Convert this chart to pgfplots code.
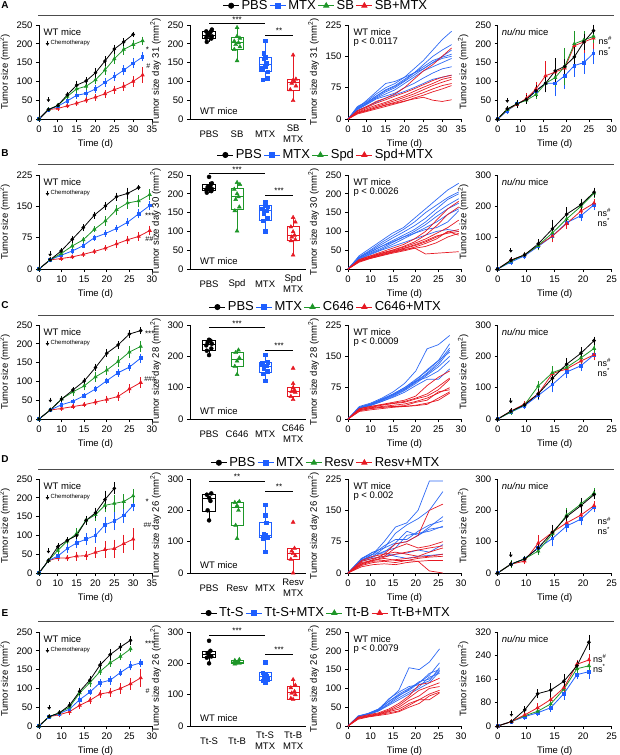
\documentclass[border=0pt]{standalone}
\usepackage{fontspec}
\setmainfont{Liberation Sans}
\usepackage{pgfplots}
\pgfplotsset{compat=1.18}
\usepackage{pgfplotstable}
\usetikzlibrary{arrows.meta}
\definecolor{cB}{RGB}{30,95,255}
\definecolor{cG}{RGB}{30,150,40}
\definecolor{cR}{RGB}{230,25,35}
\definecolor{sB}{RGB}{45,105,245}
\newcommand{\fs}[1]{\fontsize{#1}{#1}\selectfont}

\pgfplotsset{
  base/.style={scale only axis, anchor=south west, height=94pt, clip=false,
    axis x line*=bottom, axis y line*=left, tick align=outside, major tick length=3pt,
    every tick/.style={black, line width=0.7pt}, axis line style={black, line width=0.7pt},
    tick label style={font=\fs{9.5}}, label style={font=\fs{9.5}},
    /pgf/number format/assume math mode=true, ymin=0, scaled ticks=false},
  tc/.style={base, xmin=5, xtick={5,10,...,35}, xticklabels={0,10,15,20,25,30,35}, xlabel={Time (d)}},
  p1/.style={tc, width=113pt, ylabel={Tumor size (mm\textsuperscript{2})}},
  p3/.style={tc, width=113pt},
  p4/.style={tc, width=114pt, ylabel={Tumor size (mm\textsuperscript{2})}},
  p2/.style={base, width=116pt, xmin=0.32, xmax=4.46, xtick={1,2,3,4}, xtick style={draw=none},
    xticklabel style={align=center, anchor=center, yshift=-12pt, font=\fontsize{9.5}{11}\selectfont}},
  lk/.style={black, mark=*, mark size=1.4pt, line width=0.8pt},
  lb/.style={cB, mark=square*, mark size=1.3pt, line width=0.8pt},
  lg/.style={cG, mark=triangle*, mark size=1.7pt, line width=0.8pt},
  lr/.style={cR, mark=triangle*, mark size=1.7pt, line width=0.8pt},
  eb/.style={error bars/y dir=both, error bars/y explicit,
    error bars/error bar style={line width=0.6pt},
    error bars/error mark options={line width=0.6pt, mark size=1.5pt}},
  sb/.style={sB, line width=0.7pt, no marks},
  sr/.style={cR, line width=0.7pt, no marks},
  pk/.style={only marks, black, mark=*, mark size=2pt},
  pb/.style={only marks, cB, mark=square*, mark size=1.8pt},
  pg/.style={only marks, cG, mark=triangle*, mark size=2.3pt},
  pr/.style={only marks, cR, mark=triangle*, mark size=2.3pt},
  legst/.style={legend columns=4,
    legend style={at={(axis description cs:1.172,#1)}, anchor=center, draw=none, fill=none,
      font=\fs{13}, inner sep=0pt},
    legend image code/.code={\draw[mark repeat=2,mark phase=2,##1] plot coordinates {(0pt,0pt) (8pt,0pt) (16pt,0pt)};}},
}
\tikzset{chemo/.style={-{Triangle[length=2.6pt,width=3.4pt]}, line width=0.7pt, black},
  txt/.style={anchor=west, font=\fs{9.5}, inner sep=0pt},
  ns/.style={anchor=west, font=\fs{9}, inner sep=0pt}}

% one box group: colour, point style, position, whisker lo, q1, median, q3, whisker hi, points (x y rows)
\newcommand{\grp}[9]{%
  \addplot[#1, line width=0.8pt, line cap=rect, x filter/.expression={x+#3}] coordinates {(-0.22,#5) (0.22,#5) (0.22,#7) (-0.22,#7) (-0.22,#5)};
  \addplot[#1, line width=0.8pt, x filter/.expression={x+#3}] coordinates {(-0.22,#6) (0.22,#6)};
  \addplot[#1, line width=0.8pt, x filter/.expression={x+#3}] coordinates {(0,#4) (0,#5)};
  \addplot[#1, line width=0.8pt, x filter/.expression={x+#3}] coordinates {(0,#7) (0,#8)};
  \addplot[#2] table[row sep=\\, x index=0, y index=1] {#9};}
\newcommand{\sig}[4]{\draw[line width=0.6pt] (axis cs:#1,#3) -- (axis cs:#2,#3)
  node[midway, above, inner sep=1pt, font=\fs{8}] {#4};}
\newcommand{\chemolab}{%
  \node[txt] at (axis description cs:0.04,0.92) {WT mice};
  \draw[chemo] (axis description cs:0.075,0.835) -- (axis description cs:0.075,0.78);
  \node[anchor=west, inner sep=0pt, font=\fs{6}] at (axis description cs:0.1,0.805) {Chemotherapy};}

% ---------------- row A
\pgfplotstableread{
t k ke b be g ge r re
5 0 0 0 0 0 0 0 0
7.5 25 2 25 2 25 2 25 2
10 36 3 34 3 36 3 28 3
12.5 64 5 48 4 60 5 35 3
15 90 8 63 5 80 7 42 3
17.5 101 6 68 5 87 6 50 4
20 123 9 80 6 104 7 58 5
22.5 154 9 97 7 130 8 67 6
25 186 8 113 8 160 9 78 7
27.5 205 6 130 9 185 10 87 8
30 225 3 148 9 198 8 100 10
32.5 nan nan 165 8 208 7 117 16
}\tAa
\pgfplotstableread{
t b1 b2 b3 b4 b5 b6 b7 b8 r1 r2 r3 r4 r5 r6 r7
5 0 0 0 0 0 0 0 0 0 0 0 0 0 0 0
7.5 30 28 25 26 24 22 20 25 20 18 16 15 14 12 14
10 42 40 38 45 36 35 30 38 30 28 25 22 20 18 20
12.5 60 55 52 65 50 48 40 55 42 38 33 30 27 24 27
15 75 70 65 85 60 55 50 68 50 46 40 37 34 30 33
17.5 85 80 75 90 70 62 58 78 60 55 48 44 40 36 38
20 100 95 90 100 85 75 66 92 75 63 56 52 47 42 43
22.5 120 110 105 110 100 85 75 110 95 72 66 60 55 50 48
25 140 130 120 120 115 98 85 125 115 82 76 70 63 57 52
27.5 165 150 135 135 125 110 95 140 130 92 85 80 72 65 45
30 190 165 150 145 135 120 100 148 150 100 95 88 80 72 42
32.5 210 178 165 150 145 125 105 155 170 105 100 95 85 80 46
}\tAc
\pgfplotstableread{
t k ke g ge r re b be
5 0 0 0 0 0 0 0 0
7.1 27 4 25 3 25 4 22 5
9.2 40 6 40 5 38 6 40 7
11.3 52 8 50 6 55 10 52 8
13.4 75 12 65 8 80 15 75 15
15.5 95 20 95 15 115 35 95 20
17.6 128 30 110 20 125 30 95 30
19.7 140 15 140 45 135 25 115 30
21.8 165 25 200 30 195 35 142 25
23.9 205 18 210 20 205 25 150 25
26 235 12 220 15 215 25 175 25
}\tAd
% ---------------- row B
\pgfplotstableread{
t k ke g ge b be r re
5 0 0 0 0 0 0 0 0
7.45 22 2 22 2 22 2 22 2
9.9 43 3 37 3 33 3 25 2
12.35 71 5 55 3 43 3 29 2
14.8 99 5 70 3 56 3 35 2
17.25 129 5 95 4 75 4 42 2
19.7 151 6 115 8 85 4 50 3
22.15 173 6 142 8 97 5 60 5
24.6 181 10 158 10 112 6 70 6
27.05 195 3 163 10 132 7 78 7
29.5 nan nan 178 9 152 6 92 8
}\tBa
\pgfplotstableread{
t b1 b2 b3 b4 b5 b6 b7 b8 r1 r2 r3 r4 r5 r6 r7 r8
5 0 0 0 0 0 0 0 0 0 0 0 0 0 0 0 0
7.45 35 32 30 30 28 27 30 25 25 22 24 20 22 18 20 22
9.9 55 50 48 45 42 40 45 38 35 32 34 30 31 28 28 30
12.35 75 70 65 60 55 52 60 50 45 42 42 38 40 36 35 38
14.8 95 88 82 75 70 65 72 60 55 50 50 46 48 44 42 45
17.25 110 105 98 90 85 80 85 70 65 60 58 54 55 50 48 52
19.7 135 125 115 105 100 95 95 80 80 72 68 62 64 58 55 56
22.15 160 150 135 125 118 110 105 90 100 90 80 72 75 68 60 40
24.6 185 170 160 150 140 125 110 100 130 115 95 85 88 80 70 42
27.05 210 190 185 170 160 145 125 105 160 145 110 98 95 100 85 44
29.5 228 205 200 187 175 160 155 100 180 165 130 105 100 90 95 46
}\tBc
\pgfplotstableread{
t k ke g ge r re b be
5 0 0 0 0 0 0 0 0
7.3 28 4 25 4 28 4 22 4
9.7 45 5 45 5 45 5 42 6
12.1 80 10 75 8 75 8 72 8
14.6 128 25 115 15 105 15 105 12
17.1 175 18 160 15 145 12 148 12
19.6 205 15 200 12 185 12 170 12
21.9 245 10 242 10 210 10 205 12
}\tBd
% ---------------- row C
\pgfplotstableread{
t k ke g ge b be r re
5 0 0 0 0 0 0 0 0
7.5 24 2 24 2 24 2 24 2
10 53 3 53 4 38 3 28 3
12.5 77 4 72 6 47 3 33 3
15 101 5 88 8 62 3 38 3
17.5 137 6 112 10 80 3 45 4
20 175 6 130 8 102 4 52 6
22.5 197 6 153 10 123 6 60 7
25 226 6 178 12 138 6 80 8
27.5 235 5 193 10 162 8 97 10
}\tCa
\pgfplotstableread{
t b1 b2 b3 b4 b5 b6 b7 b8 r1 r2 r3 r4 r5 r6 r7
5 0 0 0 0 0 0 0 0 0 0 0 0 0 0 0
7.5 30 28 27 26 28 25 27 25 25 24 22 22 20 20 18
10 38 36 35 34 36 33 35 32 30 30 28 27 25 25 22
12.5 50 48 45 44 47 42 46 42 35 34 33 30 28 28 25
15 65 60 58 56 60 54 58 52 40 38 37 33 30 30 28
17.5 85 75 72 70 75 68 72 64 45 42 40 36 32 30 30
20 115 95 90 88 92 85 90 80 55 50 48 42 40 32 33
22.5 168 115 110 108 118 105 100 95 80 60 55 50 45 35 38
25 178 140 135 130 140 125 115 95 100 78 70 62 65 50 45
27.5 200 180 170 165 160 150 140 120 115 98 95 75 70 65 62
}\tCc
\pgfplotstableread{
t k ke g ge r re b be
5 0 0 0 0 0 0 0 0
7.3 25 4 22 3 25 3 22 4
9.7 45 5 45 5 48 5 42 5
12.1 80 10 105 12 80 8 75 10
14.6 130 20 148 15 145 10 110 20
17.1 175 15 165 10 160 10 150 15
19.6 210 15 195 10 185 10 170 12
21.9 250 8 225 10 205 12 205 12
}\tCd
% ---------------- row D
\pgfplotstableread{
t k ke g ge b be r re
5 0 0 0 0 0 0 0 0
7.5 33 3 33 3 33 3 33 3
10 70 5 60 5 45 6 40 5
12.5 87 4 85 5 65 8 40 3
15 100 5 105 10 80 10 45 8
17.5 140 8 140 8 90 12 46 8
20 160 10 155 12 100 15 55 10
22.5 195 20 180 15 128 18 62 18
25 225 12 185 18 138 20 65 20
27.5 nan nan 190 15 153 15 78 20
30 nan nan 205 15 180 12 90 25
}\tDa
\pgfplotstableread{
t b1 b2 b3 b4 b5 b6 b7 b8 r1 r2 r3 r4 r5 r6 r7 r8
5 0 0 0 0 0 0 0 0 0 0 0 0 0 0 0 0
8 35 35 32 30 33 30 28 30 30 28 25 22 20 18 22 15
10.5 45 50 40 45 50 38 35 45 40 35 30 32 28 25 30 20
13 75 60 60 65 50 52 40 48 45 40 38 45 30 28 35 22
15.5 110 95 72 80 70 60 45 40 70 60 45 50 32 25 30 20
18 120 115 100 80 75 90 48 35 75 70 50 45 35 30 30 25
20.5 150 130 90 100 90 95 55 40 90 60 55 40 38 35 28 28
23 220 150 110 115 105 100 50 42 150 65 60 50 40 38 5 30
26 220 195 135 125 110 112 68 45 165 75 65 60 45 40 0 30
}\tDc
\pgfplotstableread{
t k ke g ge r re b be
5 0 0 0 0 0 0 0 0
7.3 28 4 28 8 28 4 28 4
9.7 45 5 45 5 38 5 45 5
12.1 80 10 70 8 95 20 80 10
14.6 130 20 125 15 130 15 110 20
17.1 180 15 185 18 160 12 150 15
19.6 215 20 220 15 185 12 172 15
21.9 250 10 255 10 215 10 210 12
}\tDd
% ---------------- row E
\pgfplotstableread{
t k ke g ge b be r re
5 0 0 0 0 0 0 0 0
7.25 25 2 25 2 25 2 25 2
9.5 35 3 35 3 33 3 30 3
11.75 55 5 50 4 45 4 38 4
14 92 6 88 5 70 5 55 6
16.25 122 7 115 6 90 4 68 6
18.5 162 7 145 6 115 6 85 7
20.75 190 10 168 7 122 8 90 8
23 210 6 185 6 142 6 100 10
25.25 228 8 205 3 160 8 112 12
27.5 nan nan nan nan 168 6 128 20
}\tEa
\pgfplotstableread{
t b1 b2 b3 b4 b5 b6 b7 r1 r2 r3 r4 r5 r6
5 0 0 0 0 0 0 0 0 0 0 0 0 0
7.25 27 26 25 26 25 24 25 24 22 22 20 20 18
9.5 33 32 32 34 33 31 30 30 28 27 26 25 24
11.75 45 44 42 45 42 40 40 35 33 32 30 30 28
14 70 65 72 65 60 58 55 45 42 40 38 35 32
16.25 95 85 90 82 80 75 70 60 55 50 45 40 38
18.5 155 100 105 95 98 90 85 80 75 68 60 55 50
20.75 150 115 110 115 118 105 100 110 95 80 70 70 60
23 170 135 120 140 125 130 115 115 105 100 85 70 80
25.25 205 168 155 150 148 140 145 127 115 105 95 88 90
}\tEc
\pgfplotstableread{
t k ke r re g ge b be
5 0 0 0 0 0 0 0 0
7.4 15 3 15 3 15 3 15 3
9.75 55 8 38 5 35 5 32 5
12 110 10 62 10 50 5 45 5
14.3 122 20 90 10 75 8 62 8
16.6 152 20 130 15 125 10 110 15
18.9 205 10 210 10 195 10 175 10
21 285 20 225 15 205 10 185 20
}\tEd

\begin{document}
\begin{tikzpicture}
\useasboundingbox (0,0) rectangle (619pt,-755pt);

% ================= A
\begin{axis}[p1, at={(39pt,-119pt)}, xmax=35, ymax=250, ytick={0,50,...,250}]
\addplot[lr, eb] table[x=t,y=r,y error=re]{\tAa};
\addplot[lb, eb] table[x=t,y=b,y error=be]{\tAa};
\addplot[lg, eb] table[x=t,y=g,y error=ge]{\tAa};
\addplot[lk, eb] table[x=t,y=k,y error=ke]{\tAa};
\chemolab
\draw[chemo] (axis cs:7.5,58) -- (axis cs:7.5,45);
\node[font=\fs{8}] at (axis cs:33.8,184) {*};
\node[font=\fs{7}] at (axis cs:34,141) {\#};
\end{axis}
\begin{axis}[p2, at={(190pt,-119pt)}, ymax=250, ytick={0,50,...,250},
  ylabel={Tumor size day 31 (mm\textsuperscript{2})}, xticklabels={PBS,SB,MTX,{SB\\MTX}}, legst=1.205]
\addlegendimage{lk, mark size=2.6pt}\addlegendentry{PBS}
\addlegendimage{lb, mark size=2.4pt}\addlegendentry{MTX}
\addlegendimage{lg, mark size=3pt}\addlegendentry{SB}
\addlegendimage{lr, mark size=3pt}\addlegendentry{SB+MTX}
\grp{black}{pk}{1}{205}{215}{222}{232}{238}{0.92 205\\1.08 214\\0.9 216\\1.1 220\\1 222\\0.95 226\\1.05 231\\0.9 233\\1.1 238\\}
\grp{cG}{pg}{2}{155}{185}{203}{217}{243}{2 155\\1.9 185\\2.1 192\\1.95 198\\2.05 203\\1.9 207\\2.1 215\\2 220\\2 243\\}
\grp{cB}{pb}{3}{105}{126}{144}{164}{210}{2.92 105\\3.08 108\\3.1 126\\2.9 135\\3 140\\3.05 148\\2.95 160\\3 165\\2.95 175\\3 208\\}
\grp{cR}{pr}{4}{49}{77}{97}{105}{172}{4 49\\3.9 78\\4.1 88\\3.95 95\\4.05 99\\4 103\\4.1 106\\4 170\\}
\sig{1}{3}{254}{***}
\sig{3}{4}{223}{**}
\node[txt] at (axis description cs:0.086,0.08) {WT mice};
\end{axis}
\begin{axis}[p3, at={(348pt,-119pt)}, xmax=35, ymax=225, ytick={0,75,...,225},
  ylabel={Tumor size day 31 (mm\textsuperscript{2})}]
\pgfplotsinvokeforeach{1,...,8}{\addplot[sb] table[x=t,y=b#1]{\tAc};}
\pgfplotsinvokeforeach{1,...,7}{\addplot[sr] table[x=t,y=r#1]{\tAc};}
\node[txt] at (axis description cs:0.047,0.92) {WT mice};
\node[txt] at (axis description cs:0.047,0.82) {p < 0.0117};
\end{axis}
\begin{axis}[p4, at={(497.7pt,-119pt)}, xmax=30, ymax=250, ytick={0,50,...,250}]
\addplot[lb, eb] table[x=t,y=b,y error=be]{\tAd};
\addplot[lr, eb] table[x=t,y=r,y error=re]{\tAd};
\addplot[lg, eb] table[x=t,y=g,y error=ge]{\tAd};
\addplot[lk, eb] table[x=t,y=k,y error=ke]{\tAd};
\node[txt] at (axis description cs:0.035,0.92) {\textit{nu/nu} mice};
\draw[chemo] (axis cs:7.1,56) -- (axis cs:7.1,43);
\node[ns] at (axis cs:27.1,208) {ns\textsuperscript{\#}};
\node[ns] at (axis cs:27.1,180) {ns\textsuperscript{*}};
\end{axis}

% ================= B
\begin{axis}[p1, at={(39pt,-269pt)}, xmax=30, ymax=225, ytick={0,75,...,225}]
\addplot[lr, eb] table[x=t,y=r,y error=re]{\tBa};
\addplot[lb, eb] table[x=t,y=b,y error=be]{\tBa};
\addplot[lg, eb] table[x=t,y=g,y error=ge]{\tBa};
\addplot[lk, eb] table[x=t,y=k,y error=ke]{\tBa};
\chemolab
\draw[chemo] (axis cs:7.45,42) -- (axis cs:7.45,30);
\node[font=\fs{8}] at (axis cs:29.5,128) {***};
\node[font=\fs{7}] at (axis cs:29.4,71) {\#\#};
\end{axis}
\begin{axis}[p2, at={(190pt,-269pt)}, ymax=250, ytick={0,50,...,250},
  ylabel={Tumor size day 30 (mm\textsuperscript{2})}, xticklabels={PBS,Spd,MTX,{Spd\\MTX}}, legst=1.213]
\addlegendimage{lk, mark size=2.6pt}\addlegendentry{PBS}
\addlegendimage{lb, mark size=2.4pt}\addlegendentry{MTX}
\addlegendimage{lg, mark size=3pt}\addlegendentry{Spd}
\addlegendimage{lr, mark size=3pt}\addlegendentry{Spd+MTX}
\grp{black}{pk}{1}{203}{208}{215}{225}{232}{0.92 203\\1.08 207\\0.9 210\\1.1 213\\1 215\\0.95 218\\1.05 222\\1.1 228\\1 245\\}
\grp{cG}{pg}{2}{101}{159}{192}{214}{232}{2 101\\1.92 155\\2.08 165\\1.95 185\\2.05 192\\2 200\\1.9 212\\2.1 225\\2 230\\}
\grp{cB}{pb}{3}{100}{130}{155}{168}{179}{3 100\\2.92 128\\3.08 135\\2.95 148\\3.05 155\\2.9 160\\3.1 166\\3 170\\3 178\\}
\grp{cR}{pr}{4}{35}{75}{90}{113}{139}{4 37\\3.92 75\\4.08 78\\3.95 85\\4.05 90\\4 99\\3.92 112\\4.08 125\\4 137\\}
\sig{1}{3}{254}{***}
\sig{3}{4}{197}{***}
\node[txt] at (axis description cs:0.086,0.08) {WT mice};
\end{axis}
\begin{axis}[p3, at={(348pt,-269pt)}, xmax=30, ymax=250, ytick={0,50,...,250},
  ylabel={Tumor size day 30 (mm\textsuperscript{2})}]
\pgfplotsinvokeforeach{1,...,8}{\addplot[sb] table[x=t,y=b#1]{\tBc};}
\pgfplotsinvokeforeach{1,...,8}{\addplot[sr] table[x=t,y=r#1]{\tBc};}
\node[txt] at (axis description cs:0.047,0.92) {WT mice};
\node[txt] at (axis description cs:0.047,0.82) {p < 0.0026};
\end{axis}
\begin{axis}[p4, at={(497.7pt,-269pt)}, xmax=25, ymax=300, ytick={0,100,...,300}]
\addplot[lb, eb] table[x=t,y=b,y error=be]{\tBd};
\addplot[lr, eb] table[x=t,y=r,y error=re]{\tBd};
\addplot[lg, eb] table[x=t,y=g,y error=ge]{\tBd};
\addplot[lk, eb] table[x=t,y=k,y error=ke]{\tBd};
\node[txt] at (axis description cs:0.035,0.92) {\textit{nu/nu} mice};
\draw[chemo] (axis cs:7.3,66) -- (axis cs:7.3,52);
\node[ns] at (axis cs:22.5,181) {ns\textsuperscript{\#}};
\node[ns] at (axis cs:22.5,149) {ns\textsuperscript{*}};
\end{axis}

% ================= C
\begin{axis}[p1, at={(39pt,-419pt)}, xmax=30, ymax=250, ytick={0,50,...,250}]
\addplot[lr, eb] table[x=t,y=r,y error=re]{\tCa};
\addplot[lb, eb] table[x=t,y=b,y error=be]{\tCa};
\addplot[lg, eb] table[x=t,y=g,y error=ge]{\tCa};
\addplot[lk, eb] table[x=t,y=k,y error=ke]{\tCa};
\chemolab
\draw[chemo] (axis cs:7.5,57) -- (axis cs:7.5,44);
\node[font=\fs{8}] at (axis cs:29.5,226) {***};
\node[font=\fs{7}] at (axis cs:29.6,106) {\#\#\#};
\end{axis}
\begin{axis}[p2, at={(190pt,-419pt)}, ymax=300, ytick={0,100,...,300},
  ylabel={Tumor size day 28 (mm\textsuperscript{2})}, xticklabels={PBS,C646,MTX,{C646\\MTX}}, legst=1.191]
\addlegendimage{lk, mark size=2.6pt}\addlegendentry{PBS}
\addlegendimage{lb, mark size=2.4pt}\addlegendentry{MTX}
\addlegendimage{lg, mark size=3pt}\addlegendentry{C646}
\addlegendimage{lr, mark size=3pt}\addlegendentry{C646+MTX}
\grp{black}{pk}{1}{204}{220}{238}{252}{255}{1 204\\0.92 218\\1.08 225\\0.9 235\\1.1 240\\0.95 245\\1.05 250\\1 253\\}
\grp{cG}{pg}{2}{140}{167}{190}{212}{220}{2 142\\1.92 168\\2 185\\2.08 195\\1.95 212\\2.05 220\\}
\grp{cB}{pb}{3}{121}{148}{167}{180}{207}{3 122\\2.92 145\\3.08 152\\2.95 163\\3.05 170\\2.9 178\\3.1 182\\3 205\\}
\grp{cR}{pr}{4}{61}{71}{87}{101}{119}{4 62\\3.92 72\\4.08 85\\3.95 88\\4.05 92\\4 100\\4 113\\4 162\\}
\sig{1}{3}{292}{***}
\sig{3}{4}{220}{***}
\node[txt] at (axis description cs:0.086,0.08) {WT mice};
\end{axis}
\begin{axis}[p3, at={(348pt,-419pt)}, xmax=30, ymax=225, ytick={0,75,...,225},
  ylabel={Tumor size day 28 (mm\textsuperscript{2})}]
\pgfplotsinvokeforeach{1,...,8}{\addplot[sb] table[x=t,y=b#1]{\tCc};}
\pgfplotsinvokeforeach{1,...,7}{\addplot[sr] table[x=t,y=r#1]{\tCc};}
\node[txt] at (axis description cs:0.047,0.92) {WT mice};
\node[txt] at (axis description cs:0.047,0.82) {p < 0.0009};
\end{axis}
\begin{axis}[p4, at={(497.7pt,-419pt)}, xmax=25, ymax=300, ytick={0,100,...,300}]
\addplot[lb, eb] table[x=t,y=b,y error=be]{\tCd};
\addplot[lr, eb] table[x=t,y=r,y error=re]{\tCd};
\addplot[lg, eb] table[x=t,y=g,y error=ge]{\tCd};
\addplot[lk, eb] table[x=t,y=k,y error=ke]{\tCd};
\node[txt] at (axis description cs:0.035,0.92) {\textit{nu/nu} mice};
\draw[chemo] (axis cs:7.3,66) -- (axis cs:7.3,50);
\node[ns] at (axis cs:22.5,181) {ns\textsuperscript{\#}};
\node[ns] at (axis cs:22.5,149) {ns\textsuperscript{*}};
\end{axis}

% ================= D
\begin{axis}[p1, at={(39pt,-573pt)}, xmax=35, ymax=250, ytick={0,50,...,250}]
\addplot[lr, eb] table[x=t,y=r,y error=re]{\tDa};
\addplot[lb, eb] table[x=t,y=b,y error=be]{\tDa};
\addplot[lg, eb] table[x=t,y=g,y error=ge]{\tDa};
\addplot[lk, eb] table[x=t,y=k,y error=ke]{\tDa};
\chemolab
\draw[chemo] (axis cs:7.5,66) -- (axis cs:7.5,52);
\node[font=\fs{8}] at (axis cs:33.7,189) {*};
\node[font=\fs{7}] at (axis cs:33.8,127) {\#\#};
\end{axis}
\begin{axis}[p2, at={(190pt,-573pt)}, ymax=300, ytick={0,100,...,300},
  ylabel={Tumor size day 26 (mm\textsuperscript{2})}, xticklabels={PBS,Resv,MTX,{Resv\\MTX}}, legst=1.173]
\addlegendimage{lk, mark size=2.6pt}\addlegendentry{PBS}
\addlegendimage{lb, mark size=2.4pt}\addlegendentry{MTX}
\addlegendimage{lg, mark size=3pt}\addlegendentry{Resv}
\addlegendimage{lr, mark size=3pt}\addlegendentry{Resv+MTX}
\grp{black}{pk}{1}{168}{198}{237}{250}{255}{1 168\\0.95 200\\1.05 230\\1 240\\0.92 250\\1.08 254\\}
\grp{cG}{pg}{2}{110}{153}{208}{226}{229}{2 110\\1.95 152\\2.05 200\\2 215\\1.92 225\\2.08 228\\}
\grp{cB}{pb}{3}{68}{113}{121}{163}{219}{3 68\\2.92 112\\3.08 115\\3 120\\2.95 125\\3.05 160\\3 185\\3 218\\}
\grp{cR}{pr}{4}{0}{44}{61}{79}{79}{4 0\\3.92 44\\4.08 55\\4 62\\3.95 70\\4.05 79\\4 162\\}
\sig{1}{3}{293}{**}
\sig{3}{4}{261}{**}
\node[txt] at (axis description cs:0.086,0.08) {WT mice};
\end{axis}
\begin{axis}[p3, at={(348pt,-573pt)}, xmax=30, ymax=225, ytick={0,75,...,225},
  ylabel={Tumor size day 26 (mm\textsuperscript{2})}]
\pgfplotsinvokeforeach{1,...,8}{\addplot[sb] table[x=t,y=b#1]{\tDc};}
\pgfplotsinvokeforeach{1,...,8}{\addplot[sr] table[x=t,y=r#1]{\tDc};}
\node[txt] at (axis description cs:0.047,0.92) {WT mice};
\node[txt] at (axis description cs:0.047,0.82) {p < 0.002};
\end{axis}
\begin{axis}[p4, at={(497.7pt,-573pt)}, xmax=25, ymax=300, ytick={0,100,...,300}]
\addplot[lb, eb] table[x=t,y=b,y error=be]{\tDd};
\addplot[lr, eb] table[x=t,y=r,y error=re]{\tDd};
\addplot[lg, eb] table[x=t,y=g,y error=ge]{\tDd};
\addplot[lk, eb] table[x=t,y=k,y error=ke]{\tDd};
\node[txt] at (axis description cs:0.035,0.92) {\textit{nu/nu} mice};
\draw[chemo] (axis cs:7.3,66) -- (axis cs:7.3,50);
\node[ns] at (axis cs:22.5,166) {ns\textsuperscript{\#}};
\node[ns] at (axis cs:22.5,134) {ns\textsuperscript{*}};
\end{axis}

% ================= E
\begin{axis}[p1, at={(39pt,-726pt)}, xmax=30, ymax=250, ytick={0,50,...,250}]
\addplot[lr, eb] table[x=t,y=r,y error=re]{\tEa};
\addplot[lb, eb] table[x=t,y=b,y error=be]{\tEa};
\addplot[lg, eb] table[x=t,y=g,y error=ge]{\tEa};
\addplot[lk, eb] table[x=t,y=k,y error=ke]{\tEa};
\chemolab
\draw[chemo] (axis cs:7.25,56) -- (axis cs:7.25,43);
\node[font=\fs{8}] at (axis cs:29.5,220) {***};
\node[font=\fs{7}] at (axis cs:29,94) {\#};
\end{axis}
\begin{axis}[p2, at={(190pt,-726pt)}, ymax=300, ytick={0,100,...,300},
  ylabel={Tumor size day 26 (mm\textsuperscript{2})}, xticklabels={Tt-S,Tt-B,{Tt-S\\MTX},{Tt-B\\MTX}}, legst=1.202]
\addlegendimage{lk, mark size=2.6pt}\addlegendentry{Tt-S}
\addlegendimage{lb, mark size=2.4pt}\addlegendentry{Tt-S+MTX}
\addlegendimage{lg, mark size=3pt}\addlegendentry{Tt-B}
\addlegendimage{lr, mark size=3pt}\addlegendentry{Tt-B+MTX}
\grp{black}{pk}{1}{199}{218}{228}{239}{240}{1 200\\0.92 218\\1.08 222\\1 227\\0.95 233\\1.05 240\\1 272\\}
\grp{cG}{pg}{2}{198}{200}{204}{209}{212}{1.92 198\\2.08 200\\2 203\\1.95 204\\2.05 206\\1.92 209\\2.08 212\\}
\grp{cB}{pb}{3}{139}{144}{157}{170}{172}{3 140\\2.92 144\\3.08 150\\2.95 155\\3.05 160\\3 165\\2.92 170\\3 204\\}
\grp{cR}{pr}{4}{83}{86}{107}{125}{149}{4 85\\3.92 88\\4.08 100\\3.95 105\\4.05 110\\3.92 122\\4.08 130\\4 148\\}
\sig{1}{3}{291}{***}
\sig{3}{4}{230}{***}
\node[txt] at (axis description cs:0.086,0.08) {WT mice};
\end{axis}
\begin{axis}[p3, at={(348pt,-726pt)}, xmax=30, ymax=250, ytick={0,50,...,250},
  ylabel={Tumor size day 26 (mm\textsuperscript{2})}]
\pgfplotsinvokeforeach{1,...,7}{\addplot[sb] table[x=t,y=b#1]{\tEc};}
\pgfplotsinvokeforeach{1,...,6}{\addplot[sr] table[x=t,y=r#1]{\tEc};}
\node[txt] at (axis description cs:0.047,0.92) {WT mice};
\node[txt] at (axis description cs:0.047,0.82) {p < 0.0079};
\end{axis}
\begin{axis}[p4, at={(497.7pt,-726pt)}, xmax=25, ymax=320, ytick={0,80,...,320}]
\addplot[lb, eb] table[x=t,y=b,y error=be]{\tEd};
\addplot[lg, eb] table[x=t,y=g,y error=ge]{\tEd};
\addplot[lr, eb] table[x=t,y=r,y error=re]{\tEd};
\addplot[lk, eb] table[x=t,y=k,y error=ke]{\tEd};
\node[txt] at (axis description cs:0.035,0.92) {\textit{nu/nu} mice};
\draw[chemo] (axis cs:7.4,50) -- (axis cs:7.4,32);
\node[ns] at (axis cs:21.7,230) {ns\textsuperscript{\#}};
\node[ns] at (axis cs:21.7,197) {ns\textsuperscript{*}};
\end{axis}

% panel letters and legend rules
\foreach \l/\y/\r in {A/5/15, B/153/164, C/305/315, D/459/469, E/613/621}{
  \node[font=\bfseries\fs{10}] at (5pt,-\y pt) {\l};
  \draw[line width=0.8pt, black!70] (38pt,-\r pt) -- (614pt,-\r pt);
}
\end{tikzpicture}
\end{document}
